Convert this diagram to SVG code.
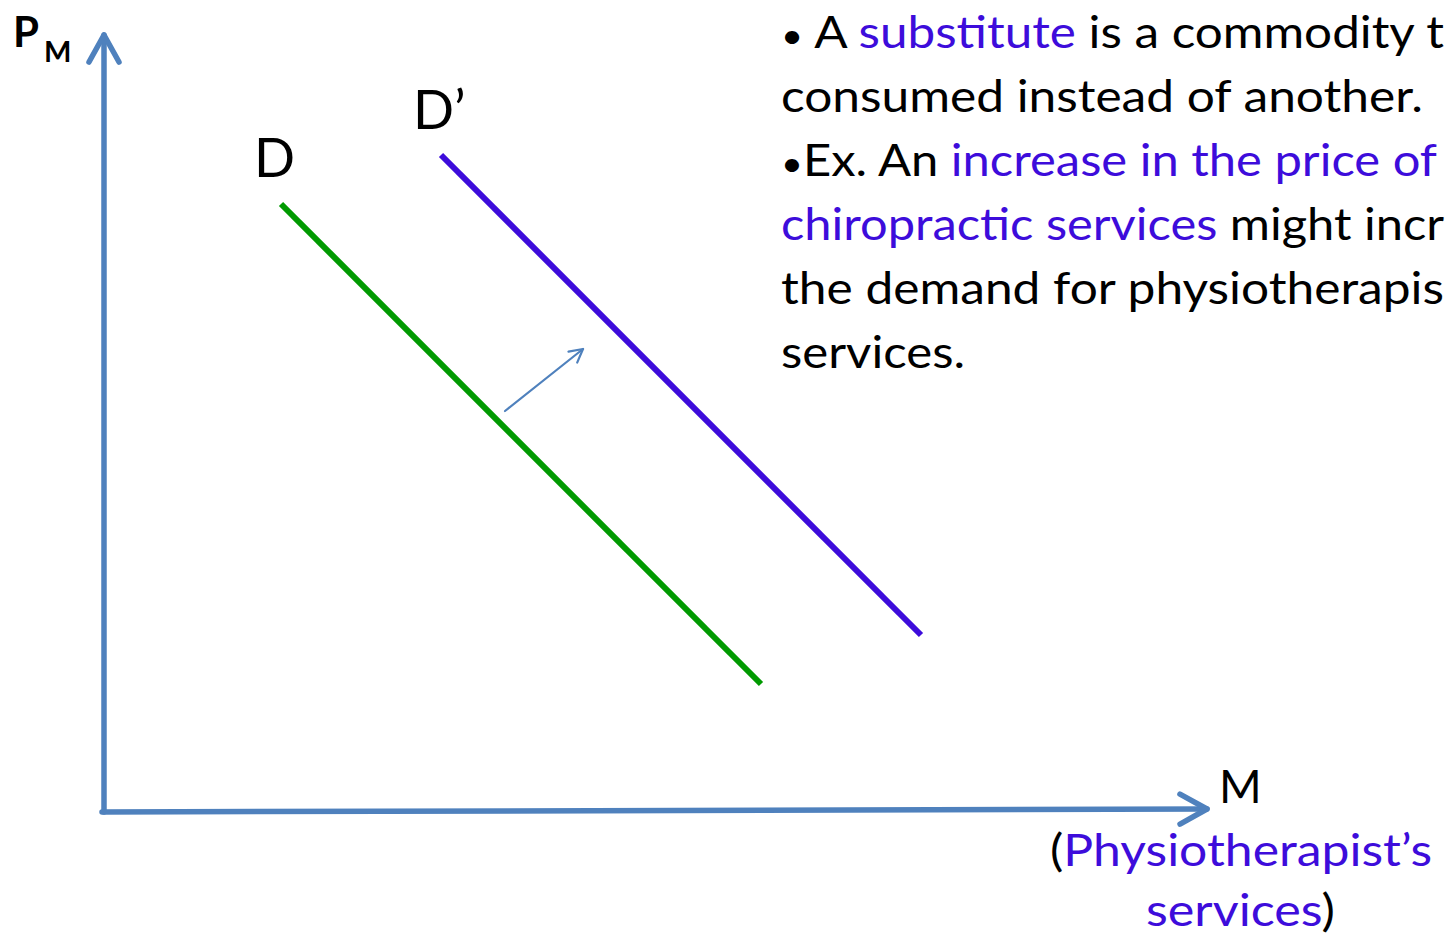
<svg xmlns="http://www.w3.org/2000/svg" width="1445" height="937" viewBox="0 0 1445 937">
<style>
.axis{stroke:#4F81BD;stroke-width:5.5;fill:none;stroke-linecap:round}
.shift{stroke:#4F81BD;stroke-width:2.2;fill:none;stroke-linecap:round}
.curve{stroke-width:6;fill:none}
.t{font-family:Lato,"Noto Sans","Liberation Sans",sans-serif;fill:#000}
.body{font-size:44px}
.hl{fill:#3D0CDB}
.bul{font-size:34px}
.lbl{font-size:54px}
</style>
<defs>
<marker id="bigArrow" markerUnits="userSpaceOnUse" viewBox="-34 -20 40 40" refX="0" refY="0" markerWidth="40" markerHeight="40" orient="auto">
<path d="M-27,-15 L0,0 L-27,15" fill="none" stroke="#4F81BD" stroke-width="5.5" stroke-linecap="round" stroke-linejoin="round"/>
</marker>
<marker id="smallArrow" markerUnits="userSpaceOnUse" viewBox="-16 -10 20 20" refX="0" refY="0" markerWidth="20" markerHeight="20" orient="auto">
<path d="M-13,-7 L0,0 L-13,7" fill="none" stroke="#4F81BD" stroke-width="2.2" stroke-linecap="round" stroke-linejoin="round"/>
</marker>
</defs>
<g id="connectors">
<line id="y-axis" class="axis" x1="104" y1="812" x2="104" y2="35" marker-end="url(#bigArrow)"/>
<line id="x-axis" class="axis" x1="102" y1="812" x2="1207" y2="809" marker-end="url(#bigArrow)"/>
<line id="shift-arrow" class="shift" x1="505" y1="411" x2="583" y2="349" marker-end="url(#smallArrow)"/>
</g>
<g id="curve-D">
<line class="curve" x1="281" y1="204" x2="761" y2="684" stroke="#009A00"/>
<text class="t lbl" x="254" y="177">D</text>
</g>
<g id="curve-D-prime">
<line class="curve" x1="441" y1="155" x2="921" y2="635" stroke="#3D0CDB"/>
<text class="t lbl" x="413" y="129">D’</text>
</g>
<g id="y-label">
<text class="t" x="13" y="47" font-size="42" font-weight="bold">P</text>
<text class="t" x="44" y="62" font-size="29" font-weight="bold">M</text>
</g>
<g id="x-label">
<text class="t" x="1219" y="803" font-size="46">M</text>
<text class="t body" x="1050" y="866" textLength="382" lengthAdjust="spacingAndGlyphs">(<tspan class="hl">Physiotherapist’s</tspan></text>
<text class="t body" x="1146" y="926" textLength="189" lengthAdjust="spacingAndGlyphs"><tspan class="hl">services</tspan>)</text>
</g>
<g id="explanation">
<text class="t body" x="781" y="48" textLength="663" lengthAdjust="spacingAndGlyphs"><tspan class="bul">•</tspan> A <tspan class="hl">substitute</tspan> is a commodity t</text>
<text class="t body" x="781" y="112" textLength="642" lengthAdjust="spacingAndGlyphs">consumed instead of another.</text>
<text class="t body" x="781" y="176" textLength="656" lengthAdjust="spacingAndGlyphs"><tspan class="bul">•</tspan>Ex. An <tspan class="hl">increase in the price of</tspan></text>
<text class="t body" x="781" y="240" textLength="663" lengthAdjust="spacingAndGlyphs"><tspan class="hl">chiropractic services</tspan> might incr</text>
<text class="t body" x="781" y="304" textLength="663" lengthAdjust="spacingAndGlyphs">the demand for physiotherapis</text>
<text class="t body" x="781" y="368" textLength="184" lengthAdjust="spacingAndGlyphs">services.</text>
</g>
</svg>
